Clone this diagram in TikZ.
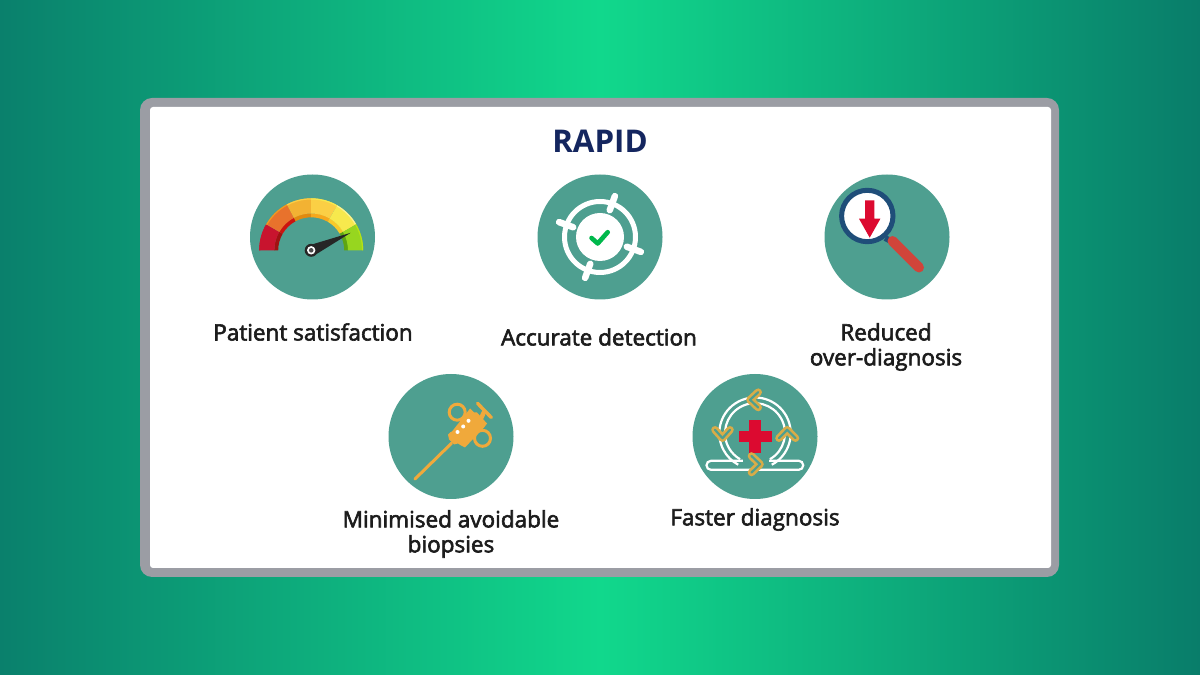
\documentclass[tikz,border=0pt]{standalone}
\usepackage{fontspec}
\newfontfamily\lab[FakeBold=2.6]{Open Sans}
\setmainfont{Open Sans}
\definecolor{teal1}{HTML}{4E9F90}
\definecolor{frame1}{HTML}{9B9DA4}
\definecolor{navy1}{HTML}{14265F}
\definecolor{txt1}{HTML}{1C1C1C}
\definecolor{gold1}{HTML}{D8AC48}
\definecolor{org1}{HTML}{F0A93B}
\definecolor{red1}{HTML}{DC0A30}
\definecolor{hred}{HTML}{D0443A}
\definecolor{lensb}{HTML}{1F4E79}
\definecolor{ga}{HTML}{C8142E}\definecolor{gai}{HTML}{A01212}
\definecolor{gb}{HTML}{E8722C}\definecolor{gbi}{HTML}{CC1410}
\definecolor{gc}{HTML}{F2B233}\definecolor{gci}{HTML}{E08A10}
\definecolor{gd}{HTML}{FBCF45}\definecolor{gdi}{HTML}{F6A81C}
\definecolor{ge}{HTML}{F7E94D}\definecolor{gei}{HTML}{F7C92A}
\definecolor{gf}{HTML}{97D61F}\definecolor{gfi}{HTML}{5EA513}
\tikzset{
  disc/.style={circle,fill=teal1,draw=none,minimum size=125pt,inner sep=0pt},
  caption/.style={font=\lab\fontsize{22.5}{25}\selectfont,text=txt1,align=center,inner sep=0pt},
  chevout/.style={draw=gold1,line width=7.6pt,line join=round,line cap=round},
  chevin/.style={draw=teal1,line width=2.2pt,line join=round,line cap=round},
  ringline/.style={draw=white,line width=2.2pt}
}
\newcommand{\band}[5]{%
  \fill[#4] (#1:37pt) arc (#1:#2:37pt) -- (#2:33pt) arc (#2:#1:33pt) -- cycle;
  \fill[#3] (#1:52pt) arc (#1:#2:52pt) -- (#2:36.8pt) arc (#2:#1:36.8pt) -- cycle;
  \fill[#5] (#1:52pt) arc (#1:#2:52pt) -- (#2:50.8pt) arc (#2:#1:50.8pt) -- cycle;
}
\newcommand{\chev}[3]{%
  \draw[chevout] (#1) -- (#2) -- (#3);
  \draw[chevin] (#1) -- (#2) -- (#3);
}
\begin{document}
\begin{tikzpicture}[x=1pt,y=1pt]
\useasboundingbox (0,0) rectangle (1200,675);
\shade[left color={rgb,255:red,10;green,128;blue,108},right color={rgb,255:red,9;green,125;blue,106},middle color={rgb,255:red,17;green,216;blue,140}] (0,0) rectangle (1200,675);
\fill[frame1,rounded corners=12pt] (140,98) rectangle (1059,577);
\fill[white,rounded corners=3pt] (150,107) rectangle (1051,568);

\node[font=\bfseries\fontsize{31.3}{34}\selectfont,text=navy1,inner sep=0pt] (title) at (600,533.5) {RAPID};

\node[disc] (d1) at (312.5,438) {};
\node[disc] (d2) at (600,438) {};
\node[disc] (d3) at (887,438) {};
\node[disc] (d4) at (451,238.5) {};
\node[disc] (d5) at (755,238.5) {};

% gauge
\begin{scope}[shift={(d1.center)}]
 \begin{scope}[shift={(-1.3,-13.3)}]
  \band{180}{150}{ga}{gai}{ga}
  \band{150}{118}{gb}{gbi}{gb!70!yellow}
  \band{118}{90}{gc}{gci}{gd}
  \band{90}{60}{gd}{gdi}{ge}
  \band{60}{30}{ge}{gei}{ge!60!white}
  \band{30}{0}{gf}{gfi}{gf!70!yellow}
  \fill[black!85] (2.5,-5.5) -- (39.5,17.5) -- (-2,5) -- cycle;
  \fill[black!85] (0,0) circle (6.5);
  \fill[white] (0,0) circle (4.2);
  \fill[black!70] (0,0) circle (2.3);
 \end{scope}
\end{scope}

% target
\begin{scope}[shift={(d2.center)}]
 \fill[white] (0,0) circle (24);
 \draw[white,line width=5pt] (0,0) circle (35.5);
 \foreach \a in {70,160,250,340}
   \draw[white,line width=6.5pt,line cap=round] (\a:28.5pt) -- (\a:43.5pt);
 \draw[green!60!black!70!cyan,line width=4.6pt,line cap=round,line join=round] (-8.5,-1) -- (-2.3,-6.5) -- (7.7,4.8);
\end{scope}

% magnifier
\begin{scope}[shift={(d3.center)}]
 \draw[lensb,line width=6pt] (-2,-1) -- (6,-5);
 \draw[hred,line width=10pt,line cap=round] (5.5,-4) -- (32,-30.5);
 \filldraw[fill=white,draw=lensb,line width=5pt] (-19.7,21) circle (25.7);
 \fill[red1] (-22,36.7) -- (-12.6,36.7) -- (-12.6,18.3) -- (-6.6,18.3) -- (-17.3,-0.7) -- (-28,18.3) -- (-22,18.3) -- cycle;
\end{scope}

% syringe
\begin{scope}[shift={(d4.center)}]
 \draw[org1,line width=3pt,line cap=round] (-36,-42.5) -- (0.5,-6.8);
 \draw[org1,line width=3pt] (6.2,24.3) circle (8);
 \draw[org1,line width=3pt] (31.5,-1.8) circle (8);
 \draw[org1,line width=4.5pt] (28,14) -- (33.8,26);
 \draw[org1,line width=3.4pt,line cap=round] (26.5,33.2) -- (40.3,19);
 \fill[org1] (-3,2) -- (-1,4) -- (1,5) -- (16,24) -- (19,28) -- (23,24) -- (26,24) -- (36,13) -- (33,9) -- (31,7) -- (14,-11) -- (10,-9) -- (7,-7) -- (3,-8) -- (-2,-3) -- cycle;
 \fill[white] (6.5,4.5) circle (2);
 \fill[white] (12.2,10) circle (2);
 \fill[white] (17.5,15.7) circle (2);
\end{scope}

% cycle
\begin{scope}[shift={(d5.center)}]
 \draw[ringline,rounded corners=4.4pt] (-48.5,-33.3) rectangle (48.2,-24.3);
 \draw[ringline] (0,3.3) ++(-62:35.7pt) arc (-62:242:35.7pt);
 \draw[ringline] (0,3.3) ++(-60:30pt) arc (-60:240:30pt);
 \fill[teal1] (-12,-25.5) rectangle (14,-23);
 \fill[red1] (-5.7,16.5) rectangle (5.7,-16.5);
 \fill[red1] (-16.5,5.7) rectangle (16.5,-5.7);
 \chev{3.2,44.3}{-5,36.7}{3.2,29}
 \chev{-40,6.7}{-32.5,-1.7}{-25,6.7}
 \chev{-3.5,-19.5}{5,-27.7}{-3.5,-36}
 \chev{24,-1.7}{32.2,6.7}{40.5,-1.7}
\end{scope}

\node[caption] (c1) at (313,343) {Patient satisfaction};
\node[caption] (c2) at (599,338) {Accurate detection};
\node[caption] (c3) at (886,328) {Reduced\\over-diagnosis};
\node[caption] (c4) at (451,141) {Minimised avoidable\\biopsies};
\node[caption] (c5) at (755,155.5) {Faster diagnosis};
\end{tikzpicture}
\end{document}
